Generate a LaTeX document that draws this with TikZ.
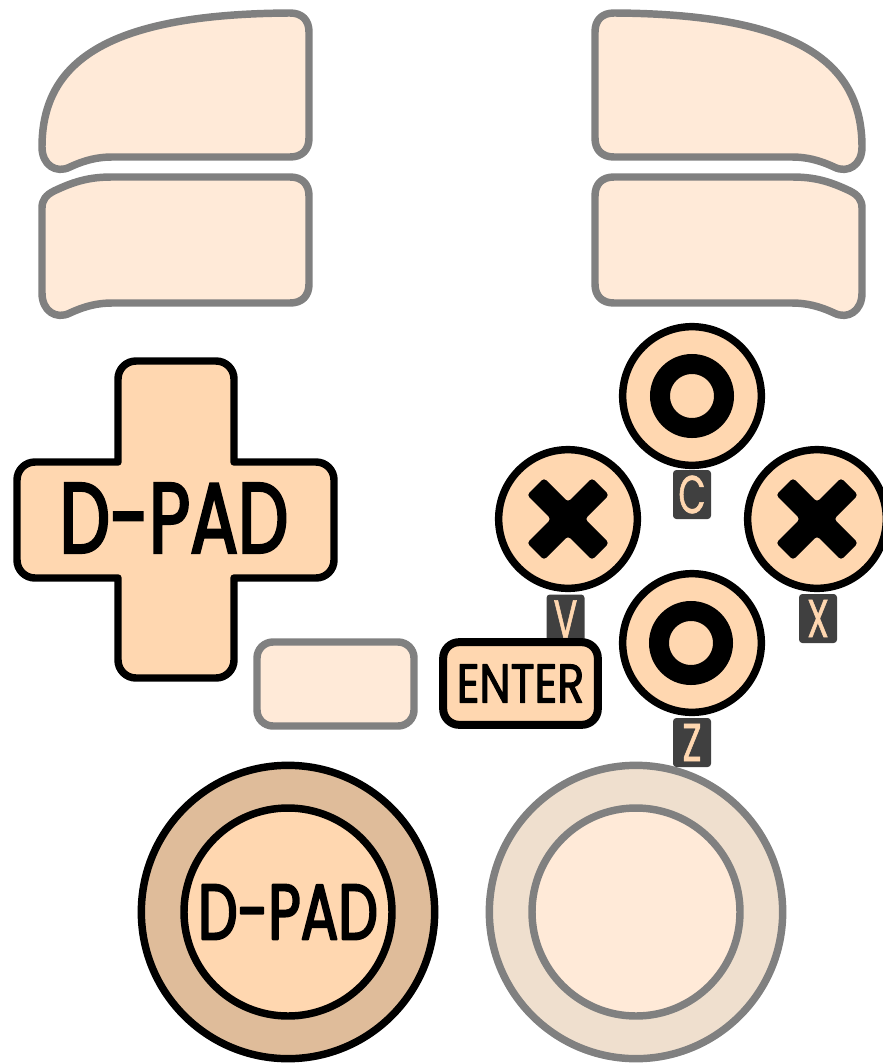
\documentclass[tikz,border=0pt]{standalone}
\usepackage{fontspec}
\setmainfont{Poppins}
\newfontfamily\padfont[FakeStretch=0.71,FakeBold=2.5]{Poppins}
\newfontfamily\enterfont[FakeStretch=0.81,FakeBold=2]{Poppins}
\newfontfamily\tagfont[FakeStretch=0.66,FakeBold=1]{Poppins}
\definecolor{peach}{HTML}{FFD7B0}
\definecolor{lite}{HTML}{FFEAD8}
\definecolor{rimdark}{HTML}{DFBC9A}
\definecolor{rimlite}{HTML}{EFDFCE}
\definecolor{greyline}{HTML}{808080}
\definecolor{tag}{HTML}{404040}
\tikzset{
  ghost/.style={draw=greyline,fill=lite,line width=5.6pt,line join=round},
  live/.style={draw=black,fill=peach,line width=5.6pt,line join=round},
  tagbox/.style={fill=tag,rounded corners=2.5pt,inner sep=0pt,minimum width=28.5pt,minimum height=36.75pt,text=peach,font=\tagfont\fontsize{40pt}{40pt}\selectfont},
  btn/.style={live,circle,inner sep=0pt,minimum size=104pt},
  ringmark/.style={circle,draw=black,line width=15pt,fill=none,inner sep=0pt,minimum size=48pt},
}
\newcommand{\bigbumper}{(42,147) .. controls (42,60) and (110,14) .. (290,13)
  .. controls (302,13) and (309,20) .. (309,32) -- (309,138)
  .. controls (309,150) and (302,157) .. (290,157) -- (112,157)
  .. controls (98,157) and (85,160) .. (70,167)
  .. controls (56,174) and (42,165) .. (42,147) -- cycle}
\newcommand{\lowbumper}{(42,293) -- (42,208)
  .. controls (42,200) and (46,195) .. (54,191)
  .. controls (75,181) and (90,177) .. (112,177) -- (290,177)
  .. controls (302,177) and (309,184) .. (309,196) -- (309,284)
  .. controls (309,296) and (302,303) .. (290,303) -- (112,303)
  .. controls (98,303) and (85,306) .. (70,313)
  .. controls (56,320) and (42,311) .. (42,293) -- cycle}
\newcommand{\xmark}[1]{\fill[black,rounded corners=2.5pt,shift={(#1)}]
  (-24,-41) -- (0,-17) -- (24,-41) -- (41,-24) -- (17,0) -- (41,24) -- (24,41)
  -- (0,17) -- (-24,41) -- (-41,24) -- (-17,0) -- (-41,-24) -- cycle;}
\begin{document}
\begin{tikzpicture}[x=0.75pt,y=-0.75pt]
\useasboundingbox (0,0) rectangle (882,1063);
% bumpers
\draw[ghost] \bigbumper;
\draw[ghost] \lowbumper;
\begin{scope}[xscale=-1,xshift=-904*0.75pt]
\draw[ghost] \bigbumper;
\draw[ghost] \lowbumper;
\end{scope}
% d-pad
\draw[live] (118,462) -- (118,379)
  .. controls (118,369) and (126,361) .. (136,361) -- (216,361)
  .. controls (226,361) and (234,369) .. (234,379) -- (234,462) -- (316,462)
  .. controls (326,462) and (334,470) .. (334,480) -- (334,560)
  .. controls (334,570) and (326,578) .. (316,578) -- (234,578) -- (234,660)
  .. controls (234,670) and (226,678) .. (216,678) -- (136,678)
  .. controls (126,678) and (118,670) .. (118,660) -- (118,578) -- (35,578)
  .. controls (25,578) and (17,570) .. (17,560) -- (17,480)
  .. controls (17,470) and (25,462) .. (35,462) -- cycle;
\node[inner sep=0pt,font=\padfont\fontsize{75pt}{75pt}\selectfont] (dpadtext) at (174,518) {D-PAD};
% tags
\node[tagbox] (tagv) at (565.5,619) {V};
\node[tagbox] (tagc) at (692,494.5) {C};
\node[tagbox] (tagx) at (818,618.5) {X};
% start / enter
\draw[ghost,rounded corners=12pt] (257,642) rectangle (414,726);
\node[live,rounded corners=12pt,line width=6pt,minimum width=116pt,minimum height=62pt,inner sep=0pt,
  font=\enterfont\fontsize{41pt}{41pt}\selectfont] (enter) at (520.5,683.5) {\raisebox{-1.5pt}{ENTER}};
% face buttons
\node[btn] (btnc) at (692,396) {};
\node[btn] (btnv) at (568,519) {};
\node[btn] (btnx) at (817,519) {};
\node[btn] (btnz) at (692,643) {};
\node[ringmark] (oc) at (692,396) {};
\node[ringmark] (oz) at (691,643) {};
\xmark{568,519}
\xmark{817,519}
% sticks
\node[live,circle,fill=rimdark,inner sep=0pt,minimum size=220pt] (lstick) at (288,912) {};
\node[live,circle,inner sep=0pt,minimum size=156pt,
  font=\padfont\fontsize{59pt}{59pt}\selectfont] (lcap) at (288,912) {\raisebox{-2pt}{D-PAD}};
\node[ghost,circle,fill=rimlite,inner sep=0pt,minimum size=220pt] (rstick) at (636,912) {};
\node[ghost,circle,inner sep=0pt,minimum size=156pt] (rcap) at (636,912) {};
\node[tagbox] (tagz) at (692,742.5) {Z};
\end{tikzpicture}
\end{document}
